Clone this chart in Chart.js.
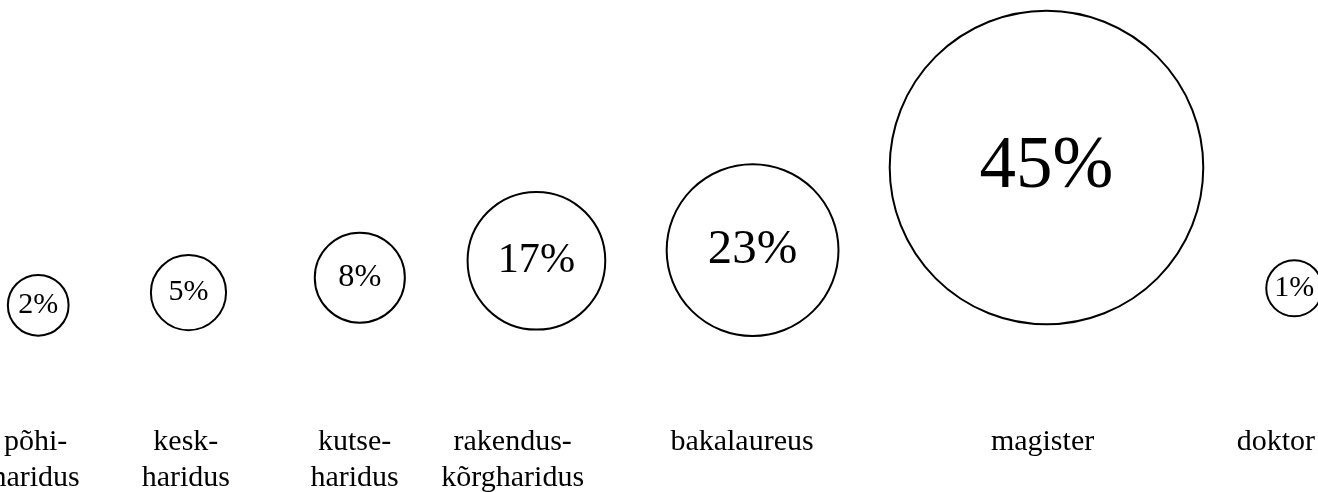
<!DOCTYPE html>
<html>
<head>
<meta charset="utf-8">
<script src="https://cdn.jsdelivr.net/npm/chart.js@4"></script>
<style>
  html, body { margin: 0; padding: 0; background: #fff; overflow: hidden; }
  #wrap { width: 1318px; height: 492px; position: relative; }
</style>
</head>
<body>
<div id="wrap"><canvas id="bubbleChart"></canvas></div>
<script>
// Haridustase (education level) shares
const categories = [
  ["põhi-", "haridus"],
  ["kesk-", "haridus"],
  ["kutse-", "haridus"],
  ["rakendus-", "kõrgharidus"],
  "bakalaureus",
  "magister",
  "doktor"
];
const shares = [2, 5, 8, 17, 23, 45, 1];
// where each bubble sits, in axis units (0-100 both ways)
const bubbleX = [2.9, 14.3, 27.3, 40.7, 57.1, 79.4, 98.2];
const bubbleY = [28, 31, 34.5, 38.5, 41, 60.5, 32];
// category labels sit a little left of some bubbles
const labelX = [2.7, 14.1, 26.9, 38.9, 56.3, 79.1, 96.8];

const serif = "'Liberation Serif', 'Times New Roman', serif";

// bubble radius (px) grows with the share
function radiusFor(v) {
  return 25.7 + 2.31 * v + 0.0134 * v * v;
}
function fontFor(v) {
  return Math.max(30, 23.5 + 1.1 * v);
}

// write the percentage in the middle of each bubble
const percentLabels = {
  id: "percentLabels",
  afterDatasetsDraw(chart) {
    const ctx = chart.ctx;
    const meta = chart.getDatasetMeta(0);
    ctx.save();
    ctx.fillStyle = "#000";
    ctx.textAlign = "center";
    ctx.textBaseline = "middle";
    meta.data.forEach((el, i) => {
      ctx.font = fontFor(shares[i]) + "px " + serif;
      ctx.fillText(shares[i] + "%", el.x, el.y);
    });
    ctx.restore();
  }
};

new Chart(document.getElementById("bubbleChart"), {
  type: "bubble",
  data: {
    datasets: [{
      data: shares.map((v, i) => ({ x: bubbleX[i], y: bubbleY[i], r: radiusFor(v) })),
      backgroundColor: "#fff",
      borderColor: "#000",
      borderWidth: 2,
      clip: false
    }]
  },
  options: {
    responsive: true,
    maintainAspectRatio: false,
    animation: false,
    events: [],
    layout: { autoPadding: false, padding: { left: 0, right: 0, top: 0, bottom: -4 } },
    plugins: {
      legend: { display: false },
      tooltip: { enabled: false }
    },
    scales: {
      x: {
        type: "linear",
        min: 0,
        max: 100,
        grid: { display: false, drawTicks: false },
        border: { display: false },
        afterBuildTicks: axis => {
          axis.ticks = labelX.map(v => ({ value: v }));
        },
        afterFit: axis => {
          axis.paddingLeft = 0;
          axis.paddingRight = 0;
        },
        ticks: {
          autoSkip: false,
          maxRotation: 0,
          minRotation: 0,
          padding: 0,
          color: "#000",
          font: { family: serif, size: 30, lineHeight: 1.2 },
          callback: (value, index) => categories[index]
        }
      },
      y: {
        display: false,
        min: 0,
        max: 100
      }
    }
  },
  plugins: [percentLabels]
});
</script>
</body>
</html>
